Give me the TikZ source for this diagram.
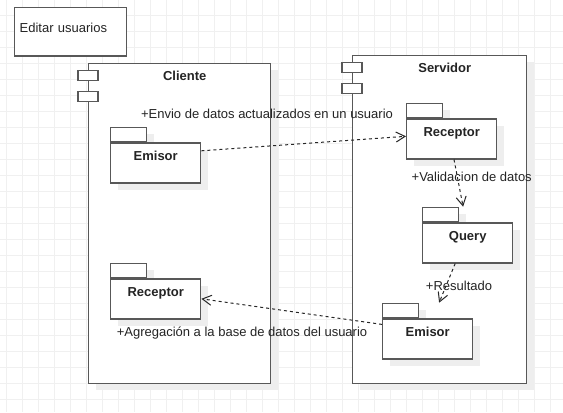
\documentclass[tikz,border=0pt]{standalone}
\usepackage{fontspec}
\setmainfont{Liberation Sans}
\usepackage{tikz}
\usetikzlibrary{positioning,shadows,arrows.meta}
\definecolor{linegray}{RGB}{88,88,88}
\definecolor{gridgray}{RGB}{240,240,240}
\definecolor{shadegray}{RGB}{238,238,238}
\definecolor{textgray}{RGB}{36,36,36}
\newcommand{\px}[1]{\fontsize{#1bp}{#1bp}\selectfont}

\begin{document}
\begin{tikzpicture}[
    x=1bp, y=-1bp,
    >={Straight Barb[length=9bp, width=10bp]},
    softshadow/.style={drop shadow={shadow xshift=7bp, shadow yshift=-7bp, fill=shadegray, opacity=1}},
    every node/.style={ font=\px{13},
                        text=textgray,
                        inner sep=0},
    note/.style={draw=linegray, line width=1.4bp, fill=white, anchor=north west,
                 text width=102bp, inner xsep=5bp, align=left,
                 text height=24.8bp, text depth=23.8bp},
    comp/.style={draw=linegray, line width=1.4bp, fill=white, softshadow, anchor=north west,
                 minimum width=182bp, minimum height=320bp},
    comptab/.style={draw=linegray, line width=1.4bp, fill=white,
                    minimum width=20bp, minimum height=10bp},
    comptitle/.style={font=\px{13}\bfseries},
    pkgtab/.style={draw=linegray, line width=1.4bp, fill=white, softshadow, anchor=north west,
                   minimum width=36bp, minimum height=14bp},
    pkg/.style={draw=linegray, line width=1.4bp, fill=white, softshadow, anchor=north west,
                minimum width=90bp, text height=18bp, text depth=22bp,
                font=\px{13}\bfseries},
    flow/.style={->, draw=black!85, line width=1bp, dash pattern=on 3bp off 3bp},
    msg/.style={text height=9.5bp, text depth=2.7bp}]

    \useasboundingbox (0,0) rectangle (563,412);
    \draw[gridgray, line width=1bp, step=16bp, shift={(6.5,15.5)}] (-6.5,396.5) grid (556.5,-15.5);

    \node[note] (usr) at (14,6.7) {Editar usuarios};

    \node[comp] (cli) at (88,62.7) {};
    \node[comptab] (clitaba) at ([yshift=-12.5bp]cli.north west) {};
    \node[comptab, below=10bp of clitaba] (clitabb) {};
    \node[comptitle] (clititle) at ([xshift=5bp, yshift=-13.5bp]cli.north) {Cliente};

    \node[comp, minimum width=174bp, minimum height=328bp] (srv) at (352,54.7) {};
    \node[comptab] (srvtaba) at ([yshift=-12.5bp]srv.north west) {};
    \node[comptab, below=10bp of srvtaba] (srvtabb) {};
    \node[comptitle] (srvtitle) at ([xshift=5bp, yshift=-12.8bp]srv.north) {Servidor};

    \node[pkgtab] (emctab) at (110,126.7) {};
    \node[pkg] (emc) at (emctab.south west) {Emisor};
    \node[pkgtab] (recctab) at (110,262.7) {};
    \node[pkg] (recc) at (recctab.south west) {Receptor};

    \node[pkgtab] (recstab) at (406,102.7) {};
    \node[pkg] (recs) at (recstab.south west) {Receptor};
    \node[pkgtab] (qrytab) at (422,206.7) {};
    \node[pkg] (qry) at (qrytab.south west) {Query};
    \node[pkgtab] (emstab) at (382,302.7) {};
    \node[pkg] (ems) at (emstab.south west) {Emisor};

    \draw[flow] ([yshift=12bp]emc.east) -- ([yshift=2.5bp]recs.west);
    \draw[flow] ([xshift=2.3bp]recs.south) -- ([xshift=3.7bp]qrytab.north east);
    \draw[flow] ([xshift=-12.5bp]qry.south) -- ([xshift=19.7bp]emstab.north east);
    \draw[flow] ([yshift=14.4bp]ems.west) -- (recc.east);

    \node[msg] (msgenvio) at (267,115) {+Envio de datos actualizados en un usuario};
    \node[msg] (msgvalid) at (471.7,178.3) {+Validacion de datos};
    \node[msg] (msgres) at (459,286.7) {+Resultado};
    \node[msg] (msgagreg) at (242,332.7) {+Agregación a la base de datos del usuario};

\end{tikzpicture}
\end{document}
